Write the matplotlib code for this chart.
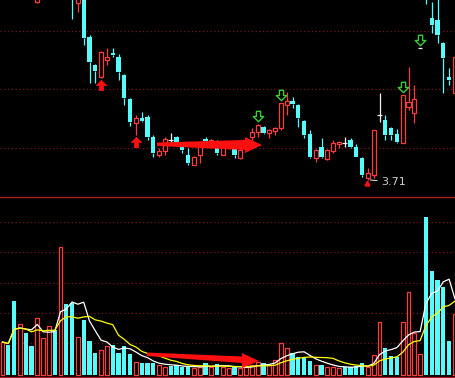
import numpy as np
import pandas as pd
import matplotlib
matplotlib.use('Agg')
import matplotlib.pyplot as plt
from matplotlib.path import Path
from matplotlib.lines import Line2D
from matplotlib.patches import Polygon

# daily candles (price), oldest first; the first dozen sit above the visible window
opens = [5.91, 6.06, 5.96, 5.73, 5.86, 5.76, 5.49, 5.66, 5.81, 5.96, 5.83, 6.11,
         5.76, 5.48, 5.53, 5.14, 4.86, 4.74, 4.91, 4.98, 4.94, 4.76, 4.52, 4.28,
         4.33, 4.34, 4.14, 3.96, 4.00, 4.11, 4.14, 4.08, 3.96, 3.86, 3.96, 4.12,
         4.04, 4.09, 3.96, 4.04, 4.03, 3.93, 4.04, 4.14, 4.19, 4.24, 4.18, 4.20,
         4.23, 4.46, 4.50, 4.46, 4.30, 4.17, 3.93, 4.04, 3.92, 4.00, 4.07, 4.08,
         4.11, 4.04, 3.93, 3.73, 3.76, 4.36, 4.31, 4.23, 4.17, 4.08, 4.44, 4.38,
         5.03, 5.81, 5.33, 5.31, 5.08, 4.74, 4.58]
closes = [6.06, 5.96, 5.71, 5.86, 5.76, 5.66, 5.66, 5.81, 5.96, 5.81, 6.11, 5.76,
          5.54, 5.53, 5.13, 4.89, 4.80, 4.99, 4.94, 4.96, 4.79, 4.53, 4.29, 4.33,
          4.30, 4.14, 3.98, 4.00, 4.12, 4.11, 4.08, 4.01, 3.88, 3.94, 4.06, 4.10,
          4.11, 3.98, 4.09, 4.07, 3.96, 4.01, 4.08, 4.19, 4.26, 4.18, 4.21, 4.23,
          4.48, 4.50, 4.47, 4.33, 4.16, 3.94, 4.01, 3.94, 4.01, 4.08, 4.09, 4.08,
          4.04, 3.94, 3.76, 3.78, 4.21, 4.36, 4.16, 4.16, 4.09, 4.56, 4.49, 4.52,
          5.03, 5.53, 5.26, 5.16, 4.93, 4.71, 4.94]
highs = [6.11, 6.09, 6.01, 5.91, 5.89, 5.79, 5.71, 5.86, 6.01, 6.01, 6.21, 6.16,
         5.81, 5.57, 5.55, 5.16, 4.87, 5.00, 5.03, 5.03, 4.97, 4.77, 4.53, 4.36,
         4.39, 4.36, 4.16, 4.03, 4.14, 4.18, 4.15, 4.09, 4.03, 3.95, 4.08, 4.14,
         4.12, 4.11, 4.10, 4.09, 4.05, 4.03, 4.10, 4.23, 4.27, 4.25, 4.22, 4.24,
         4.48, 4.59, 4.54, 4.47, 4.31, 4.21, 4.02, 4.13, 4.02, 4.11, 4.10, 4.14,
         4.13, 4.07, 3.94, 3.83, 4.21, 4.58, 4.36, 4.24, 4.22, 4.56, 4.84, 4.66,
         5.03, 5.91, 5.49, 5.56, 5.09, 4.83, 4.96]
lows = [5.86, 5.91, 5.66, 5.69, 5.71, 5.61, 5.48, 5.63, 5.76, 5.79, 5.81, 5.71,
        5.32, 5.39, 5.06, 4.68, 4.68, 4.73, 4.86, 4.94, 4.71, 4.46, 4.25, 4.16,
        4.29, 4.11, 3.94, 3.94, 3.96, 4.08, 4.08, 3.98, 3.86, 3.86, 3.88, 4.04,
        4.03, 3.96, 3.96, 4.02, 3.93, 3.92, 4.03, 4.11, 4.14, 4.17, 4.13, 4.16,
        4.21, 4.36, 4.43, 4.24, 4.13, 3.93, 3.89, 3.93, 3.91, 3.98, 4.03, 4.04,
        4.03, 3.94, 3.74, 3.71, 3.73, 4.29, 4.11, 4.11, 4.08, 4.08, 4.41, 4.28,
        5.03, 5.47, 5.18, 5.08, 4.58, 4.66, 4.56]
volume = [33, 30, 74, 51, 42, 29, 57, 37, 49, 45, 128, 71,
          72, 38, 55, 34, 22, 25, 29, 30, 22, 29, 21, 13,
          12, 12, 12, 10, 8, 9, 10, 8, 8, 7, 8, 12,
          8, 11, 8, 7, 8, 7, 8, 10, 13, 12, 10, 15,
          32, 27, 22, 18, 17, 14, 10, 10, 8, 8, 7, 8,
          8, 9, 12, 8, 20, 53, 27, 19, 18, 53, 83, 42,
          21, 158, 104, 95, 88, 34, 61]
buy_days = [17, 23]
sell_days = [44, 48, 69, 72]

RED = '#ff3c3c'
CYAN = '#54fcfc'
WHITE = '#f0f0f0'
GREEN = '#3ccc3c'
GRID = '#6e1a1a'
SEP = '#a81e1e'
W, H = 455, 378

o, c, h, l = (np.array(a, dtype=float) for a in (opens, closes, highs, lows))
vol = np.array(volume, dtype=float)
x = np.arange(len(o))
up = c > o
down = c < o
flat = c == o
prev_c = np.concatenate([[c[0]], c[:-1]])
vol_up = up | (flat & (c >= prev_c))

fig = plt.figure(figsize=(W / 100, H / 100), dpi=100, facecolor='black')
ax_p = fig.add_axes([0, 182 / H, 1, 196 / H])
ax_v = fig.add_axes([0, 0, 1, 181 / H])
for ax in (ax_p, ax_v):
    ax.set_facecolor('black')
    ax.set_axis_off()
    ax.set_xlim(-0.431, 78.017)
ax_p.set_ylim(3.55, 5.51)
ax_v.set_ylim(-3, 178)

# dotted grid
for g in [5.205, 4.617, 4.035]:
    ax_p.axhline(g, color=GRID, lw=0.9, ls=(0, (1, 2)), zorder=0)
for g in [31.7, 61.7, 91.7, 123.3, 152.7]:
    ax_v.axhline(g, color=GRID, lw=0.9, ls=(0, (1, 2)), zorder=0)

# candles
col = np.where(up, RED, np.where(down, CYAN, WHITE))
top = np.maximum(o, c)
bot = np.minimum(o, c)
ax_p.vlines(x, top, h, colors=col, lw=0.9)
ax_p.vlines(x, l, bot, colors=col, lw=0.9)
ax_p.bar(x[up], (c - o)[up], bottom=o[up], width=0.72,
         facecolor='black', edgecolor=RED, lw=0.9)
ax_p.bar(x[down], (o - c)[down], bottom=c[down], width=0.75, color=CYAN, lw=0)
ax_p.hlines(c[flat], x[flat] - 0.38, x[flat] + 0.38, colors=WHITE, lw=0.9)

# buy / sell signals
up_arrow = Path([(0, 1), (1, 0), (0.4, 0), (0.4, -1), (-0.4, -1), (-0.4, 0), (-1, 0), (0, 1)])
down_arrow = Path([(-0.4, 1), (0.4, 1), (0.4, 0), (1, 0), (0, -1), (-1, 0), (-0.4, 0), (-0.4, 1)])
ax_p.plot(buy_days, l[buy_days] - 0.07, ls='none', marker=up_arrow, ms=7.5,
          mfc='#ff1010', mec='#ff1010', mew=0.5, zorder=4)
ax_p.plot(sell_days, h[sell_days] + 0.08, ls='none', marker=down_arrow, ms=7.5,
          mfc='black', mec=GREEN, mew=1.0, zorder=4)

# lowest price label
lo_i = int(np.argmin(l))
ax_p.plot(lo_i - 0.2, l[lo_i] - 0.025, marker='^', color='#ff1010', ms=3.5, ls='none')
ax_p.annotate(f'{l[lo_i]:.2f}', xy=(lo_i + 0.4, l[lo_i]), xytext=(lo_i + 2.3, l[lo_i] - 0.02),
              color='#d0d0d0', fontsize=8, va='center', ha='left',
              arrowprops=dict(arrowstyle='-', color='#d0d0d0', lw=0.8, shrinkA=1, shrinkB=0))

# hand-drawn arrows
ax_p.add_patch(Polygon([(26.64, 4.085), (41.81, 4.11), (41.81, 4.14), (44.74, 4.06),
                        (41.81, 3.98), (41.81, 4.01), (26.64, 4.05)],
                       closed=True, color='#ff1010', lw=0, zorder=5))

# volume
ax_v.bar(x[vol_up], vol[vol_up], width=0.65, facecolor='black', edgecolor=RED, lw=0.9)
ax_v.bar(x[~vol_up], vol[~vol_up], width=0.72, color=CYAN, lw=0)
s = pd.Series(vol)
ax_v.plot(x, s.rolling(5, min_periods=1).mean(), color='white', lw=0.9)
ax_v.plot(x, s.rolling(10, min_periods=1).mean(), color='#ffff00', lw=0.9)
ax_v.add_patch(Polygon([(24.91, 22.5), (41.29, 18.5), (41.29, 22), (44.22, 14),
                        (41.29, 7), (41.29, 12), (24.91, 19)],
                       closed=True, color='#ff1010', lw=0, zorder=5))

# panel separators
fig.add_artist(Line2D([0, 1], [1 - 197.5 / H] * 2, color=SEP, lw=1))
fig.add_artist(Line2D([0, 1], [1 - 377.0 / H] * 2, color=SEP, lw=1))

fig.savefig('out.png', dpi=100, facecolor='black')
